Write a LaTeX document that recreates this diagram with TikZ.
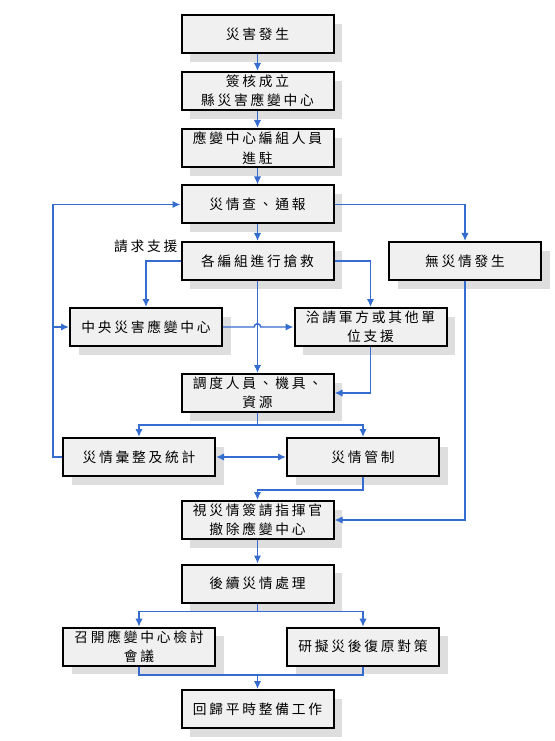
\documentclass[tikz,border=0pt]{standalone}
\usepackage{fontspec}
\newfontfamily\cjk[LetterSpace=20]{Noto Sans CJK TC}
\usetikzlibrary{arrows.meta,shadows}
\definecolor{flowblue}{RGB}{52,108,208}
\definecolor{boxgray}{RGB}{240,240,240}
\definecolor{shadowgray}{RGB}{222,222,222}
\begin{document}
\begin{tikzpicture}[x = 0.75pt,
  y = -0.75pt,
  >={Latex[length=6pt,width=5.5pt]},
  box/.style = {draw, line width=1.5pt, fill=boxgray,
    drop shadow={shadow xshift=6.5pt, shadow yshift=-6.5pt,
      fill=shadowgray, opacity=1},
    minimum width=114pt, minimum height=28.5pt, inner sep=1pt,
    align=center, font=\cjk\fontsize{10.3}{14.5}\selectfont},
  flow/.style = {draw=flowblue, line width=1.1pt}]

  \useasboundingbox (0,0) rectangle (554,741);

  % column positions
  \def\xm{257.5}
  \def\xl{139}
  \def\xr{363}

  % main column
  \node[box] (occur)    at (\xm,34.5)  {災害發生};
  \node[box] (setup)    at (\xm,91)    {簽核成立\\縣災害應變中心};
  \node[box] (station)  at (\xm,148)   {應變中心編組人員\\進駐};
  \node[box] (report)   at (\xm,204.5) {災情查、通報};
  \node[box] (rescue)   at (\xm,261)   {各編組進行搶救};
  \node[box] (nodis)    at (465,261)   {無災情發生};
  \node[box] (central)  at (146,327)   {中央災害應變中心};
  \node[box] (army)     at (370.5,327) {洽請軍方或其他單\\位支援};
  \node[box] (dispatch) at (\xm,393)   {調度人員、機具、\\資源};
  \node[box] (stats)    at (\xl,457)   {災情彙整及統計};
  \node[box] (control)  at (\xr,457)   {災情管制};
  \node[box] (revoke)   at (\xm,520)   {視災情簽請指揮官\\撤除應變中心};
  \node[box] (after)    at (\xm,583.5) {後續災情處理};
  \node[box] (review)   at (\xl,646.7) {召開應變中心檢討\\會議};
  \node[box] (plan)     at (\xr,646.7) {研擬災後復原對策};
  \node[box] (back)     at (\xm,709)   {回歸平時整備工作};

  % label
  \node[anchor=east, inner sep=1pt, font=\cjk\fontsize{10.3}{12}\selectfont]
  (ask) at (179,246) {請求支援};

  % helper points
  \coordinate (loopbot) at (53,457);
  \coordinate (looptop) at (53,204.5);
  \coordinate (split1) at (\xm,425);
  \coordinate (split2) at (\xm,611.7);
  \coordinate (join)   at (\xm,675);
  \coordinate (cross)  at (rescue.south |- central.east);

  % straight arrows
  \foreach \a/\b in {occur/setup, setup/station, station/report,
    report/rescue, rescue/dispatch, revoke/after}
  \draw[flow, ->] (\a) -- (\b);

  % branches
  \draw[flow, ->] (report.east) -| (nodis.north);
  \draw[flow, ->] (rescue.west) -| (central.north);
  \draw[flow, ->] (rescue.east) -| (army.north);
  \draw[flow, ->] (central.east) -- ([xshift=-2.5pt]cross)
  arc[start angle=180, end angle=360, radius=3.3] -- (army.west);
  \draw[flow, ->] (army.south) |- (dispatch.east);
  \draw[flow] (dispatch.south) -- (split1);
  \draw[flow, ->] (split1) -| (stats.north);
  \draw[flow, ->] (split1) -| (control.north);
  \draw[flow, <->] (stats.east) -- (control.west);

  % feedback loop
  \draw[flow, ->] (stats.west) -- (loopbot) -- (looptop) -- (report.west);
  \draw[flow, ->] (loopbot |- central.west) -- (central.west);

  % towards closing
  \draw[flow, ->] (control.south) -- ++(0,13) -| (revoke.north);
  \draw[flow, ->] (nodis.south) |- (revoke.east);
  \draw[flow] (after.south) -- (split2);
  \draw[flow, ->] (split2) -| (review.north);
  \draw[flow, ->] (split2) -| (plan.north);
  \draw[flow] (review.south) |- (join);
  \draw[flow] (plan.south) |- (join);
  \draw[flow, ->] (join) -- (back.north);

\end{tikzpicture}
\end{document}
